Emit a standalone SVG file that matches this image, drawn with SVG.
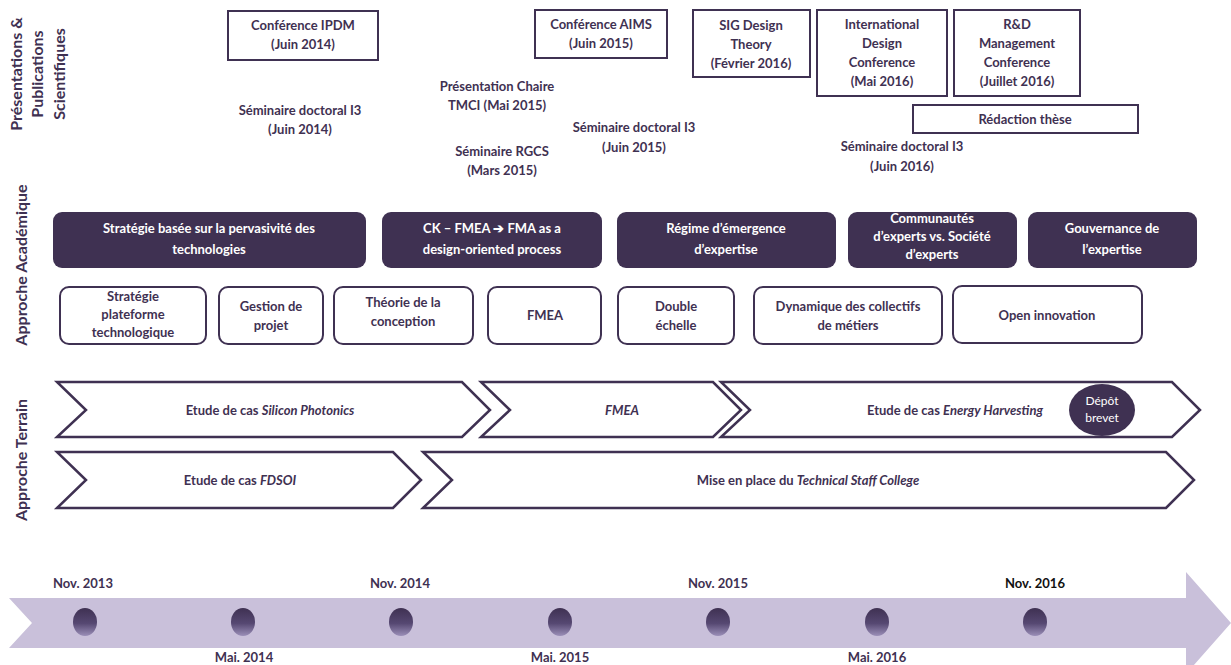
<svg xmlns="http://www.w3.org/2000/svg" width="1231" height="665" viewBox="0 0 1231 665">
<defs>
<style>
text{font-family:Lato,"Open Sans","Liberation Sans",sans-serif;font-weight:bold;font-size:13px;fill:#3f3152;text-anchor:middle}
.lbl{font-size:16px}
.w{fill:#ffffff}
.box{fill:#ffffff;stroke:#3f3152;stroke-width:2}
.dark{fill:#3f3152;stroke:none}
.light{fill:#ffffff;stroke:#3f3152;stroke-width:2}
.chev{fill:#ffffff;stroke:#3f3152;stroke-width:2.5;stroke-linejoin:miter}
.it{font-style:italic}
.dot{fill:url(#dotg)}
</style>
<linearGradient id="dotg" x1="0" y1="0" x2="0" y2="1">
<stop offset="0" stop-color="#3f3152"/>
<stop offset="0.55" stop-color="#564872"/>
<stop offset="1" stop-color="#9b8fb8"/>
</linearGradient>
</defs>
<rect width="1231" height="665" fill="#ffffff"/>

<g id="section-labels">
<text class="lbl" transform="translate(22,74) rotate(-90)">Présentations &amp;</text>
<text class="lbl" transform="translate(43,74) rotate(-90)">Publications</text>
<text class="lbl" transform="translate(65,74) rotate(-90)">Scientifiques</text>
<text class="lbl" transform="translate(27,265) rotate(-90)">Approche Académique</text>
<text class="lbl" transform="translate(27,460) rotate(-90)">Approche Terrain</text>
</g>

<g id="pub-ipdm"><rect class="box" x="228" y="11" width="150" height="49"/><text x="303" y="30">Conférence IPDM</text><text x="303" y="49">(Juin 2014)</text></g>
<g id="pub-sem2014"><text x="300" y="115">Séminaire doctoral I3</text><text x="300" y="134">(Juin 2014)</text></g>
<g id="pub-tmci"><text x="497" y="91">Présentation Chaire</text><text x="497" y="110">TMCI (Mai 2015)</text></g>
<g id="pub-rgcs"><text x="502" y="156">Séminaire RGCS</text><text x="502" y="175">(Mars 2015)</text></g>
<g id="pub-aims"><rect class="box" x="535" y="10" width="132" height="48"/><text x="601" y="29">Conférence AIMS</text><text x="601" y="48">(Juin 2015)</text></g>
<g id="pub-sem2015"><text x="634" y="132">Séminaire doctoral I3</text><text x="634" y="152">(Juin 2015)</text></g>
<g id="pub-sig"><rect class="box" x="693" y="10" width="117" height="67"/><text x="751" y="30">SIG Design</text><text x="751" y="49">Theory</text><text x="751" y="68">(Février 2016)</text></g>
<g id="pub-idc"><rect class="box" x="817" y="10" width="130" height="86"/><text x="882" y="29">International</text><text x="882" y="48">Design</text><text x="882" y="67">Conference</text><text x="882" y="86">(Mai 2016)</text></g>
<g id="pub-rdm"><rect class="box" x="954" y="10" width="126" height="86"/><text x="1017" y="29">R&amp;D</text><text x="1017" y="48">Management</text><text x="1017" y="67">Conference</text><text x="1017" y="86">(Juillet 2016)</text></g>
<g id="pub-these"><rect class="box" x="913" y="105" width="225" height="28"/><text x="1025" y="124">Rédaction thèse</text></g>
<g id="pub-sem2016"><text x="902" y="151">Séminaire doctoral I3</text><text x="902" y="171">(Juin 2016)</text></g>

<g id="aca-pervasivite"><rect class="dark" x="53" y="212" width="313" height="56" rx="9"/><text class="w" x="209" y="233">Stratégie basée sur la pervasivité des</text><text class="w" x="209" y="254">technologies</text></g>
<g id="aca-ckfmea"><rect class="dark" x="382" y="212" width="220" height="56" rx="9"/><text class="w" x="492" y="233">CK – FMEA ➔ FMA as a</text><text class="w" x="492" y="254">design-oriented process</text></g>
<g id="aca-regime"><rect class="dark" x="617" y="212" width="219" height="56" rx="9"/><text class="w" x="726" y="233">Régime d’émergence</text><text class="w" x="726" y="254">d’expertise</text></g>
<g id="aca-communautes"><rect class="dark" x="848" y="212" width="169" height="56" rx="9"/><text class="w" x="932" y="223">Communautés</text><text class="w" x="932" y="241">d’experts vs. Société</text><text class="w" x="932" y="259">d’experts</text></g>
<g id="aca-gouvernance"><rect class="dark" x="1028" y="212" width="169" height="56" rx="9"/><text class="w" x="1112" y="233">Gouvernance de</text><text class="w" x="1112" y="254">l’expertise</text></g>

<g id="lit-plateforme"><rect class="light" x="60" y="287" width="146" height="57" rx="9"/><text x="133" y="301">Stratégie</text><text x="133" y="319">plateforme</text><text x="133" y="337">technologique</text></g>
<g id="lit-gestion"><rect class="light" x="219" y="287" width="104" height="57" rx="9"/><text x="271" y="311">Gestion de</text><text x="271" y="330">projet</text></g>
<g id="lit-theorie"><rect class="light" x="334" y="287" width="139" height="57" rx="9"/><text x="403" y="307">Théorie de la</text><text x="403" y="326">conception</text></g>
<g id="lit-fmea"><rect class="light" x="488" y="287" width="113" height="57" rx="9"/><text x="545" y="320">FMEA</text></g>
<g id="lit-double"><rect class="light" x="618" y="287" width="116" height="57" rx="9"/><text x="676" y="311">Double</text><text x="676" y="330">échelle</text></g>
<g id="lit-dynamique"><rect class="light" x="754" y="287" width="188" height="57" rx="9"/><text x="848" y="311">Dynamique des collectifs</text><text x="848" y="330">de métiers</text></g>
<g id="lit-open"><rect class="light" x="953" y="286" width="189" height="57" rx="9"/><text x="1047" y="320">Open innovation</text></g>

<g id="terrain-silicon"><polygon class="chev" points="57,382 462,382 490,410 462,437 57,437 86,410"/><text x="270" y="415">Etude de cas <tspan class="it">Silicon Photonics</tspan></text></g>
<g id="terrain-fmea"><polygon class="chev" points="481,382 713,382 741,410 713,437 481,437 510,410"/><text class="it" x="622" y="415">FMEA</text></g>
<g id="terrain-energy"><polygon class="chev" points="721,382 1172,382 1200,410 1172,437 721,437 750,410"/><text x="955" y="415">Etude de cas <tspan class="it">Energy Harvesting</tspan></text></g>
<g id="terrain-brevet"><ellipse class="dark" cx="1102" cy="410" rx="33" ry="26"/><text class="w" x="1102" y="405" style="font-weight:normal;font-size:12px">Dépôt</text><text class="w" x="1102" y="422" style="font-weight:normal;font-size:12px">brevet</text></g>
<g id="terrain-fdsoi"><polygon class="chev" points="57,452 393,452 421,480 393,508 57,508 86,480"/><text x="240" y="485">Etude de cas <tspan class="it">FDSOI</tspan></text></g>
<g id="terrain-tsc"><polygon class="chev" points="423,452 1166,452 1194,480 1166,508 423,508 452,480"/><text x="808" y="485">Mise en place du <tspan class="it">Technical Staff College</tspan></text></g>

<g id="timeline">
<polygon fill="#c9c0da" points="9,598 1186,598 1186,572 1231,623 1186,674 1186,648 9,648 32,623"/>
<ellipse class="dot" cx="85" cy="622" rx="12" ry="14"/>
<ellipse class="dot" cx="243" cy="622" rx="12" ry="14"/>
<ellipse class="dot" cx="401" cy="622" rx="12" ry="14"/>
<ellipse class="dot" cx="560" cy="622" rx="12" ry="14"/>
<ellipse class="dot" cx="718" cy="622" rx="12" ry="14"/>
<ellipse class="dot" cx="877" cy="622" rx="12" ry="14"/>
<ellipse class="dot" cx="1035" cy="622" rx="12" ry="14"/>
<text x="83" y="588">Nov. 2013</text>
<text x="400" y="588">Nov. 2014</text>
<text x="718" y="588">Nov. 2015</text>
<text x="1035" y="588" style="fill:#111111">Nov. 2016</text>
<text x="244" y="662">Mai. 2014</text>
<text x="560" y="662">Mai. 2015</text>
<text x="877" y="662">Mai. 2016</text>
</g>
<g id="connectors"/>
</svg>
